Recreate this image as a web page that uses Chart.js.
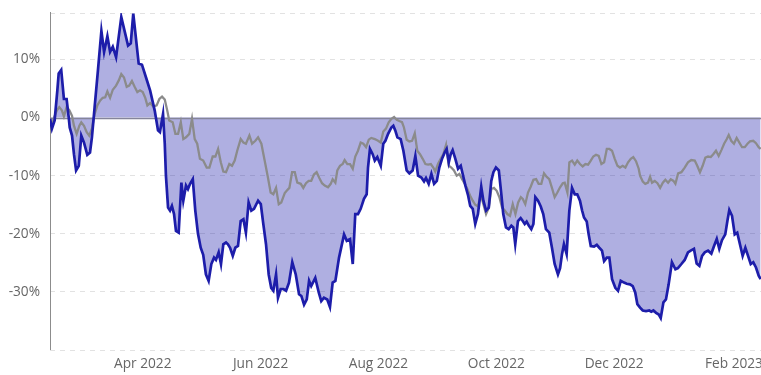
<!DOCTYPE html>
<html>
<head>
<meta charset="utf-8">
<script src="https://cdn.jsdelivr.net/npm/chart.js@4.4.1/dist/chart.umd.min.js"></script>
<style>
  html, body { margin: 0; padding: 0; background: #ffffff; }
  #wrap { width: 761px; height: 375px; position: relative; }
</style>
</head>
<body>
<div id="wrap"><canvas id="c"></canvas></div>
<script>
// Day offsets are counted from this date
const originDate = '2022-02-12';

// Month tick marks on the x axis
const tickDates  = ['2022-04-01', '2022-06-01', '2022-08-01', '2022-10-01', '2022-12-01', '2023-02-01'];
const tickLabels = ['Apr 2022', 'Jun 2022', 'Aug 2022', 'Oct 2022', 'Dec 2022', 'Feb 2023'];

// Y axis ticks (percent)
const yTicks = [-40, -30, -20, -10, 0, 10, 18];
const yLabelled = [-30, -20, -10, 0, 10];

// Blue series (percent change), day offsets
const blueDays = [
  0,1.0,2.4,3.8,4.5,5.8,7.2,8.6,9.7,10.2,11.4,12.4,13.5,14.9,16.2,17.6,19.3,20.7,21.7,23.1,
  24.8,26.6,28.0,29.7,31.1,32.5,34.2,36.9,40.4,41.8,43.1,45.9,47.6,49.7,51.8,54.2,55.9,56.9,58.5,59.4,
  60.0,61.1,62.1,63.1,64.2,65.2,66.6,68.0,69.0,70.4,71.4,72.5,73.9,75.2,76.6,78.0,79.3,80.7,82.1,83.5,
  84.9,85.9,87.3,88.5,89.7,91.1,92.1,93.2,94.6,95.9,97.3,98.7,100.1,101.4,102.8,104.2,105.6,107.7,109.1,110.4,
  111.8,113.2,114.5,115.6,117.0,118.0,119.4,120.8,122.2,
  123.7,125.4,127.2,128.9,130.1,131.5,132.9,134.1,135.2,137.3,139.1,140.4,141.8,143.5,144.9,146.3,147.7,149.6,152.2,153.6,
  155.3,156.7,158.0,159.4,160.8,162.5,163.9,164.6,165.6,167.0,168.1,169.4,171.2,172.5,173.6,175.0,176.7,177.7,178.7,179.8,181.5,
  182.9,184.6,186.0,187.7,189.1,190.5,192.2,193.6,194.6,196.0,197.4,198.8,200.2,201.5,202.9,204.3,205.3,206.4,207.4,208.4,
  209.8,211.2,212.6,213.6,215.0,216.4,217.5,218.8,220.1,221.5,223.2,224.3,225.7,227.1,228.4,229.5,230.8,232.3,233.6,234.6,
  236.0,237.4,238.8,239.8,240.8,242.2,243.6,
  244.7,245.7,246.7,247.8,249.1,250.2,251.2,252.6,254.0,255.3,256.7,258.4,259.8,261.2,262.9,264.0,265.0,266.0,267.4,268.8,
  270.2,271.6,272.9,274.3,275.4,276.4,277.8,278.8,279.9,281.6,283.0,284.3,285.7,286.8,288.2,289.5,290.9,292.6,294.0,295.4,
  297.1,298.5,300.2,301.6,302.9,304.0,
  305.4,306.8,308.5,310.2,311.2,312.3,313.7,315.1,316.1,317.5,318.8,320.2,321.9,323.7,325.0,326.8,328.5,330.2,331.6,333.3,
  334.7,336.1,337.5,338.9,340.6,342.3,343.7,345.1,346.4,347.8,349.5,350.6,351.6,353.0,354.4,355.7,357.1,358.5,359.9,361.3,
  362.7,364.0,365.4,366.8,367.8
];
const blueValues = [
  -0.2,-1.9,-0.5,4.7,7.6,8.2,3.2,3.2,0,-1.7,-3.1,-6.3,-9.1,-8.3,-3.1,-4.3,-6.4,-6.0,-3.4,1.8,
  8.1,14.9,11.3,14.0,11.3,12.2,10.4,17.3,12.4,12.8,17.9,9.3,9.1,6.9,4.7,1.2,-2.2,-2.5,0.6,-4.5,
  -10.0,-15.5,-16.0,-15.2,-16.6,-19.5,-19.8,-11.2,-14.3,-11.7,-12.3,-11.4,-10.6,-16.0,-20.0,-22.4,-23.6,-27.0,-28.1,-25.2,
  -24.1,-24.5,-23.2,-25.2,-21.8,-21.5,-21.8,-22.4,-23.8,-22.4,-22.1,-17.8,-17.5,-19.8,-14.6,-16.0,-15.7,-14.3,-14.9,-18.3,
  -21.8,-27.0,-29.3,-29.8,-27.0,-31.0,-29.5,-29.5,-29.8,
  -28.4,-24.9,-27.0,-30.4,-30.7,-32.2,-31.3,-28.1,-29.0,-27.6,-30.1,-31.6,-31.0,-31.3,-32.6,-28.4,-28.1,-24.1,-20.1,-21.2,
  -20.9,-25.2,-16.6,-16.6,-15.7,-14.0,-13.2,-8.6,-5.4,-6.3,-7.4,-6.8,-8.3,-4.5,-4.0,-2.8,-1.7,-1.4,-2.2,-3.4,-3.7,
  -5.7,-9.1,-9.6,-9.1,-6.6,-10.0,-10.3,-11.0,-10.4,-11.4,-9.7,-11.4,-10.9,-8.6,-7.1,-6.0,-5.4,-7.7,-6.3,-5.6,
  -7.1,-8.8,-8.3,-9.7,-11.7,-13.4,-15.2,-15.7,-18.3,-16.6,-11.9,-14.3,-16.0,-15.5,-10.9,-9.4,-8.6,-9.1,-13.2,-16.6,
  -18.9,-19.2,-18.6,-18.9,-21.8,-17.8,-17.3,
  -17.8,-18.3,-17.9,-18.6,-19.2,-18.3,-13.7,-14.3,-15.3,-16.6,-19.2,-19.8,-22.4,-25.2,-27.0,-25.9,-23.5,-21.8,-23.5,-16.0,
  -12.1,-13.2,-13.2,-14.3,-16.0,-17.2,-17.9,-20.1,-22.1,-22.2,-21.9,-22.4,-22.9,-24.7,-24.1,-24.1,-27.8,-29.3,-29.8,-28.1,
  -28.4,-28.6,-28.7,-29.0,-30.1,-32.1,
  -32.7,-33.2,-33.3,-33.2,-33.4,-33.2,-33.6,-33.9,-34.5,-31.8,-31.3,-28.7,-24.9,-26.1,-25.9,-25.2,-24.5,-23.2,-22.9,-22.6,
  -25.1,-25.5,-23.8,-23.2,-22.9,-23.4,-22.1,-20.9,-22.6,-21.1,-20.1,-17.8,-15.9,-16.9,-20.1,-19.8,-21.8,-23.8,-22.4,-23.8,
  -25.2,-24.9,-25.8,-27.2,-27.8
];

// Gray series (percent change), day offsets
const grayDays = [
  0,1.0,2.1,3.5,4.8,6.2,7.2,8.6,10.0,11.4,12.4,13.8,15.2,16.2,17.6,19.0,20.3,21.7,23.1,24.5,
  25.9,27.3,28.6,29.7,31.1,32.5,34.2,35.6,36.9,38.3,39.7,41.0,42.4,43.8,45.2,46.6,48.0,49.3,50.4,51.8,
  53.5,55.2,56.6,58.0,59.4,
  60.7,61.7,63.5,64.9,66.3,67.7,69.0,70.4,72.1,73.5,74.9,76.2,77.6,79.3,81.1,82.5,84.2,85.6,87.0,88.4,
  89.7,91.1,92.8,94.2,95.6,96.9,98.7,100.1,101.4,103.2,104.6,106.3,107.7,109.4,111.1,112.8,114.2,115.6,117.0,118.4,119.7,
  121.5,122.5,123.9,125.3,126.7,128.0,129.8,131.1,132.5,133.9,135.2,136.6,138.0,139.4,140.8,142.2,143.9,145.3,146.3,147.7,
  148.7,150.1,151.5,152.5,153.9,155.3,156.7,158.0,159.4,160.8,162.2,163.6,165.0,166.3,168.1,169.8,171.2,172.5,173.9,175.3,
  176.7,178.1,179.5,180.8,
  182.2,183.2,184.6,186.0,187.4,188.8,190.1,191.5,192.9,194.3,195.7,197.1,198.4,199.4,200.8,202.2,203.6,205.0,206.4,207.7,
  209.1,210.5,211.9,213.3,214.7,216.0,217.4,218.8,220.1,221.5,222.9,224.3,225.7,227.1,228.4,229.8,231.2,232.6,234.0,235.4,
  236.7,238.1,239.5,240.9,242.3,243.7,
  244.7,246.0,247.4,248.8,250.2,251.6,252.9,254.3,255.7,257.1,258.4,259.8,261.2,262.6,264.0,265.4,266.4,267.8,268.8,270.2,
  271.6,272.9,274.3,275.7,277.1,278.5,279.9,281.2,282.6,284.0,285.4,286.8,288.2,289.5,290.9,292.3,293.7,295.0,296.4,297.8,
  299.2,300.6,301.9,303.3,304.7,
  305.4,306.8,308.1,309.5,310.6,311.6,313.0,314.4,315.8,317.2,318.5,319.9,321.3,322.7,323.7,325.1,326.8,328.5,330.2,331.9,
  333.7,335.0,336.4,337.8,339.2,340.6,342.0,343.3,344.7,346.1,347.5,348.9,350.3,351.3,352.6,354.0,355.4,356.8,358.2,359.6,
  361.0,362.3,364.0,365.4,366.8,367.8
];
const grayValues = [
  0,-1.4,0,1.2,1.8,1.2,0.2,1.8,1.3,0.3,-1.4,-2.8,-1.4,-0.8,-1.4,-2.5,-3.1,-1.9,0.6,2.1,
  2.9,3.4,3.5,4.5,3.4,4.8,5.5,6.4,7.5,6.9,5.3,5.5,6.3,5.3,4.4,4.7,4.4,3.4,2.1,2.5,
  1.9,2.1,3.2,3.6,3.1,
  1.2,-0.5,-0.8,-2.8,-2.8,-0.8,-3.7,-3.4,-2.8,-0.2,-3.7,-4.5,-7.1,-7.4,-8.6,-8.6,-6.7,-6.7,-5.4,-7.7,
  -9.3,-9.4,-8.0,-8.3,-7.4,-5.7,-3.7,-4.3,-4.5,-3.1,-4.5,-4.0,-3.4,-4.5,-7.4,-10.3,-12.9,-13.2,-12.1,-14.9,-14.6,
  -13.0,-12.6,-12.1,-9.4,-9.4,-11.2,-11.4,-12.1,-11.3,-10.9,-10.9,-9.8,-9.4,-10.4,-11.3,-11.7,-12.0,-11.4,-10.6,-11.2,
  -9.1,-8.3,-8.0,-7.3,-8.0,-8.0,-8.8,-6.7,-5.7,-4.3,-4.5,-5.1,-3.8,-3.5,-3.7,-4.0,-4.3,-2.4,-1.9,-0.8,
  -0.2,0.1,-0.4,-0.6,
  -0.8,-1.7,-3.8,-4.1,-4.0,-2.7,-5.7,-6.3,-7.1,-8.0,-8.1,-8.0,-8.6,-9.3,-8.0,-7.1,-6.3,-4.7,-8.3,-8.6,
  -9.1,-10.0,-9.7,-10.6,-11.4,-12.3,-13.4,-14.3,-15.0,-15.3,-13.2,-14.9,-16.6,-15.5,-12.3,-12.1,-12.6,-13.7,-15.5,-16.0,
  -16.6,-16.9,-14.9,-16.6,-14.6,-13.7,
  -14.0,-14.9,-12.9,-11.9,-10.7,-10.6,-11.4,-11.4,-9.6,-10.2,-10.6,-12.1,-13.7,-12.9,-12.0,-11.3,-11.2,-12.9,-7.7,-7.4,
  -8.1,-7.4,-8.0,-8.4,-8.0,-8.1,-7.4,-6.7,-6.4,-6.6,-8.0,-7.7,-5.4,-5.4,-5.7,-7.1,-8.3,-8.6,-8.3,-8.6,
  -7.7,-7.1,-6.8,-7.5,-8.8,
  -10.0,-11.0,-11.4,-11.2,-10.2,-11.2,-10.9,-11.3,-12.1,-11.2,-10.7,-11.2,-10.6,-10.9,-11.4,-9.6,-9.4,-8.6,-7.7,-7.3,
  -7.4,-8.3,-9.4,-8.3,-6.9,-6.7,-6.8,-6.3,-5.7,-6.6,-5.6,-4.5,-3.7,-3.0,-4.0,-4.5,-3.5,-4.3,-5.1,-5.1,
  -4.5,-4.1,-4.0,-4.4,-5.1,-5.4
];

const DAY_MS = 86400000;
function dayOffset(s) { return (Date.parse(s + 'T00:00:00Z') - Date.parse(originDate + 'T00:00:00Z')) / DAY_MS; }
const tickDays = tickDates.map(dayOffset);
const xMin = 0, xMax = 368;

function pairs(xs, ys) {
  const n = Math.min(xs.length, ys.length);
  const out = [];
  for (let i = 0; i < n; i++) out.push({ x: xs[i], y: ys[i] });
  return out;
}

const FONT = "'Segoe UI', 'Open Sans', 'Noto Sans', sans-serif";

const zeroLine = {
  id: 'zeroLine',
  beforeDatasetsDraw(chart) {
    const { ctx, chartArea, scales } = chart;
    const y = Math.round(scales.y.getPixelForValue(0)) + 0.5;
    ctx.save();
    ctx.strokeStyle = '#85859a';
    ctx.lineWidth = 1.5;
    ctx.beginPath();
    ctx.moveTo(chartArea.left, y);
    ctx.lineTo(chartArea.right, y);
    ctx.stroke();
    // y axis line
    const x = chartArea.left + 0.5;
    ctx.strokeStyle = '#8c8c8c';
    ctx.lineWidth = 1;
    ctx.beginPath();
    ctx.moveTo(x, chartArea.top - 1);
    ctx.lineTo(x, chartArea.bottom);
    ctx.stroke();
    ctx.restore();
  }
};

new Chart(document.getElementById('c'), {
  type: 'line',
  data: {
    datasets: [
      {
        label: 'Blue',
        data: pairs(blueDays, blueValues),
        borderColor: '#1d1daa',
        borderWidth: 2.7,
        backgroundColor: 'rgba(26,26,170,0.35)',
        fill: 'origin',
        pointRadius: 0,
        tension: 0
      },
      {
        label: 'Gray',
        data: pairs(grayDays, grayValues),
        borderColor: '#8b8b8b',
        borderWidth: 2.3,
        fill: false,
        pointRadius: 0,
        tension: 0
      }
    ]
  },
  options: {
    responsive: true,
    maintainAspectRatio: false,
    animation: false,
    devicePixelRatio: 1,
    layout: { padding: { top: 13, left: 0, right: 0, bottom: 0 } },
    plugins: {
      legend: { display: false },
      tooltip: { enabled: false },
      filler: { drawTime: 'beforeDatasetsDraw' }
    },
    scales: {
      x: {
        type: 'linear',
        min: xMin,
        max: xMax,
        afterBuildTicks(scale) { scale.ticks = tickDays.map(v => ({ value: v })); },
        afterFit(scale) { scale.height = 25; scale.paddingLeft = 0; scale.paddingRight = 0; },
        grid: { display: false, drawTicks: false },
        border: { display: false },
        ticks: {
          autoSkip: false,
          maxRotation: 0,
          padding: 6,
          color: '#666666',
          font: { family: FONT, size: 13.7 },
          callback(v) {
            const i = tickDays.indexOf(v);
            return i >= 0 ? tickLabels[i] : '';
          }
        }
      },
      y: {
        min: -40,
        max: 18,
        afterBuildTicks(scale) { scale.ticks = yTicks.map(v => ({ value: v })); },
        afterFit(scale) { scale.width = 50; scale.paddingTop = 0; scale.paddingBottom = 0; },
        grid: {
          drawTicks: false,
          color: ctx => (ctx.tick && ctx.tick.value === 0) ? 'rgba(0,0,0,0)' : '#e2e2e2',
          lineWidth: 1
        },
        border: { display: false, dash: [5, 5] },
        ticks: {
          padding: 10,
          color: '#666666',
          font: { family: FONT, size: 13.7 },
          callback(v) { return yLabelled.includes(v) ? v + '%' : ''; }
        }
      }
    }
  },
  plugins: [zeroLine]
});
</script>
</body>
</html>
